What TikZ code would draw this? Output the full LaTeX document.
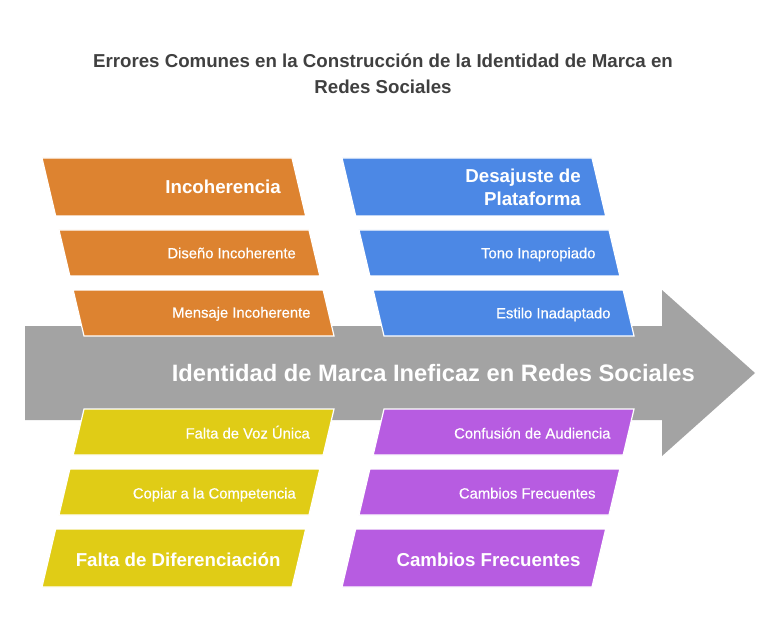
\documentclass[tikz,border=0pt]{standalone}
\usepackage{fontspec}
\setmainfont{Liberation Sans}
\newfontfamily\smallfont{Liberation Sans}[FakeBold=0.5]
\definecolor{corange}{HTML}{DD8330}
\definecolor{cblue}{HTML}{4C88E5}
\definecolor{cyellow}{HTML}{E0CC16}
\definecolor{cpurple}{HTML}{B75CE1}
\definecolor{cgray}{HTML}{A3A3A3}
\definecolor{ctitle}{HTML}{404040}
\newcommand\tbox[4]{\path[pg=#1] ({#2+0.236*(#3-158)},#3) -- ({#2+250+0.236*(#3-158)},#3) -- ({#2+250+0.236*(#4-158)},#4) -- ({#2+0.236*(#4-158)},#4) -- cycle;}
\newcommand\bbox[4]{\path[pg=#1] ({#2+0.236*(587-#3)},#3) -- ({#2+250+0.236*(587-#3)},#3) -- ({#2+250+0.236*(587-#4)},#4) -- ({#2+0.236*(587-#4)},#4) -- cycle;}
\begin{document}
\begin{tikzpicture}[x=1pt,y=-1pt,
  pg/.style={fill=#1, draw=white, line width=1.2pt, line join=miter},
  titletext/.style={text=ctitle, font=\fontsize{18.7}{22}\selectfont\bfseries, anchor=base, inner sep=0pt},
  maintext/.style={text=white, font=\fontsize{23.7}{28}\selectfont\bfseries, anchor=base east, inner sep=0pt},
  lblbig/.style={text=white, font=\fontsize{18.7}{22}\selectfont\bfseries, anchor=base east, inner sep=0pt, align=right},
  lblsmall/.style={text=white, font=\smallfont\fontsize{14.8}{17}\selectfont, anchor=base east, inner sep=0pt}]
\useasboundingbox (0,0) rectangle (782,639);
\fill[white] (0,0) rectangle (782,639);
% title
\node[titletext] (t1) at (383,67.7) {Errores Comunes en la Construcción de la Identidad de Marca en};
\node[titletext] (t2) at (383,93.3) {Redes Sociales};
% arrow
\fill[cgray] (25,326) -- (662,326) -- (662,290) -- (755,373) -- (662,456) -- (662,420) -- (25,420) -- cycle;
\node[maintext] (main) at (695,381.7) {Identidad de Marca Ineficaz en Redes Sociales};
% top-left orange
\tbox{corange}{42}{158}{216}
\tbox{corange}{42}{230}{276}
\tbox{corange}{42}{290}{336}
\node[lblbig] (o1) at (281,194) {Incoherencia};
\node[lblsmall] (o2) at (296,258.3) {Diseño Incoherente};
\node[lblsmall] (o3) at (310.7,317.7) {Mensaje Incoherente};
% top-right blue
\tbox{cblue}{342}{158}{216}
\tbox{cblue}{342}{230}{276}
\tbox{cblue}{342}{290}{336}
\node[lblbig] (b1a) at (581,182.3) {Desajuste de};
\node[lblbig] (b1b) at (581,206) {Plataforma};
\node[lblsmall] (b2) at (595.7,258.3) {Tono Inapropiado};
\node[lblsmall] (b3) at (610.7,318.3) {Estilo Inadaptado};
% bottom-left yellow
\bbox{cyellow}{42}{409}{455}
\bbox{cyellow}{42}{469}{515}
\bbox{cyellow}{42}{529}{587}
\node[lblsmall] (y1) at (310,438.5) {Falta de Voz Única};
\node[lblsmall] (y2) at (296,498.5) {Copiar a la Competencia};
\node[lblbig] (y3) at (280.7,566) {Falta de Diferenciación};
% bottom-right purple
\bbox{cpurple}{342}{409}{455}
\bbox{cpurple}{342}{469}{515}
\bbox{cpurple}{342}{529}{587}
\node[lblsmall] (p1) at (610.7,438.5) {Confusión de Audiencia};
\node[lblsmall] (p2) at (595.7,498.5) {Cambios Frecuentes};
\node[lblbig] (p3) at (580.7,566) {Cambios Frecuentes};
\end{tikzpicture}
\end{document}
